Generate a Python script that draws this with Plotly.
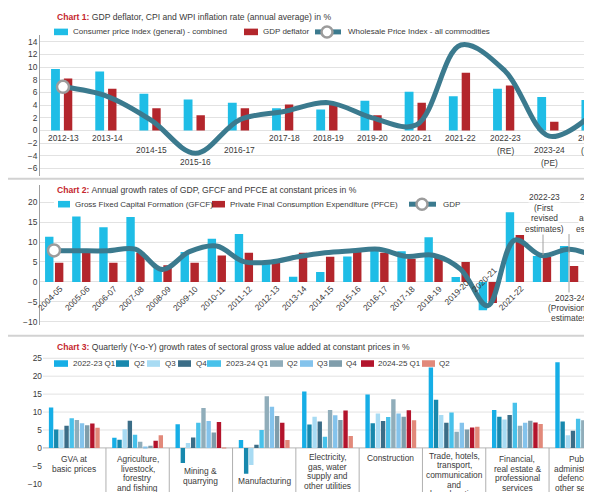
import plotly.graph_objects as go

W, H = 592, 492

# ---------------- Chart 1 data ----------------
c1_years = ["2012-13", "2013-14", "2014-15", "2015-16", "2016-17", "2017-18",
            "2018-19", "2019-20", "2020-21", "2021-22", "2022-23", "2023-24", "2004-25"]
c1_notes = ["", "", "", "", "", "", "", "", "", "", "(RE)", "(PE)", "(FAE)*"]
c1_cpi = [9.7, 9.3, 5.8, 4.9, 4.4, 3.5, 3.3, 4.7, 6.1, 5.4, 6.6, 5.3, 4.8]
c1_deflator = [8.2, 6.6, 3.5, 2.4, 3.5, 4.1, 4.1, 2.4, 4.4, 9.1, 7.1, 1.4, 2.4]
c1_wpi = [6.9, 5.4, 1.6, -3.6, 1.7, 3.0, 4.4, 2.0, 0.9, 13.5, 9.4, -0.9, 2.7]
c1_yticks = [-6, -4, -2, 0, 2, 4, 6, 8, 10, 12, 14]
c1_names = ["Consumer price index (general) - combined", "GDP deflator",
            "Wholesale Price Index - all commodities"]

# ---------------- Chart 2 data ----------------
c2_years = ["2004-05", "2005-06", "2006-07", "2007-08", "2008-09", "2009-10", "2010-11",
            "2011-12", "2012-13", "2013-14", "2014-15", "2015-16", "2016-17", "2017-18",
            "2018-19", "2019-20", "2020-21", "2021-22", "2022-23", "2023-24", "2024-25"]
c2_gfcf = [11.3, 16.4, 13.7, 16.3, 3.5, 7.5, 10.8, 12.0, 5.0, 1.3, 2.5, 6.4, 7.9, 7.7,
           11.2, 1.2, -7.1, 17.5, 6.5, 9.0, 6.7]
c2_pfce = [4.8, 7.3, 4.8, 7.3, 4.2, 4.8, 6.6, 7.3, 5.4, 7.3, 6.3, 7.7, 7.3, 5.8,
           6.0, 5.0, -5.3, 11.8, 6.3, 4.0, 6.2]
c2_gdp = [7.9, 7.8, 7.8, 8.2, 3.1, 7.6, 9.0, 5.1, 5.0, 6.3, 7.3, 7.8, 8.2, 6.4,
          6.7, 3.2, -6.0, 10.5, 6.6, 8.2, 6.3]
c2_yticks = [-10, -5, 0, 5, 10, 15, 20]
c2_names = ["Gross Fixed Capital Formation (GFCF)",
            "Private Final Consumption Expenditure (PFCE)", "GDP"]
# the last three years are labelled with estimate notes instead of rotated labels
c2_estimate_notes = {"2022-23": ["2022-23", "(First", "revised", "estimates)"],
                     "2024-25": ["2024-25", "(First", "advance", "estimates)"],
                     "2023-24": ["2023-24", "(Provisional", "estimates)"]}

# ---------------- Chart 3 data ----------------
c3_sectors = ["GVA at basic prices", "Agriculture, livestock, forestry and fishing",
              "Mining & quarrying", "Manufacturing",
              "Electricity, gas, water supply and other utilities", "Construction",
              "Trade, hotels, transport, communication and broadcasting",
              "Financial, real estate & professional services",
              "Public administration, defence and other services"]
c3_label_lines = [["GVA at", "basic prices"],
                  ["Agriculture,", "livestock,", "forestry", "and fishing"],
                  ["Mining &", "quarrying"],
                  ["Manufacturing"],
                  ["Electricity,", "gas, water", "supply and", "other utilities"],
                  ["Construction"],
                  ["Trade, hotels,", "transport,", "communication", "and", "broadcasting"],
                  ["Financial,", "real estate &", "professional", "services"],
                  ["Public", "administration,", "defence and", "other services"]]
c3_series = ["2022-23 Q1", "Q2", "Q3", "Q4", "2023-24 Q1", "Q2", "Q3", "Q4", "2024-25 Q1", "Q2"]
q22_1 = [11.3, 2.8, 6.6, 2.2, 15.7, 14.9, 22.4, 10.6, 23.9]
q22_2 = [5.1, 2.3, -4.2, -7.2, 6.5, 6.9, 13.4, 8.7, 7.4]
q22_3 = [5.0, 5.2, 1.4, -4.8, 8.7, 9.6, 9.2, 7.9, 3.5]
q22_4 = [6.2, 7.6, 2.9, 0.9, 7.4, 7.5, 7.0, 9.2, 4.8]
q23_1 = [8.3, 3.7, 7.0, 5.0, 3.1, 8.6, 9.9, 12.6, 8.1]
q23_2 = [7.8, 1.7, 11.1, 14.4, 10.6, 13.6, 4.5, 6.2, 7.7]
q23_3 = [6.9, 0.4, 7.5, 11.5, 9.1, 9.6, 7.0, 7.0, 7.4]
q23_4 = [6.3, 0.6, 4.3, 8.9, 7.8, 8.7, 5.1, 7.6, 7.7]
q24_1 = [6.8, 2.0, 7.2, 7.0, 10.4, 10.5, 5.7, 7.1, 9.5]
q24_2 = [5.6, 3.5, -0.1, 2.2, 3.3, 7.7, 5.9, 6.7, 9.2]
c3_values = [q22_1, q22_2, q22_3, q22_4, q23_1, q23_2, q23_3, q23_4, q24_1, q24_2]
c3_yticks = [-10, -5, 0, 5, 10, 15, 20, 25]

# ---------------- style ----------------
FONT = "Liberation Sans, Arial, sans-serif"
FS = 8.4
FS_KEY = 8.0
CYAN = "#1fbde6"
RED = "#b3262c"
LINEC = "#3b7a8e"
GRID = "#e2e2e2"
AXIS = "#a0a0a0"
TXT = "#3a3a3a"
TRED = "#c4262e"
MK_EDGE = "#9c9c9c"
c3_colors = ["#16aee6", "#1788ad", "#a8dbf3", "#3b6d87", "#48c1ea",
             "#90adba", "#84c3ec", "#7f9dab", "#b3142c", "#e2897a"]


def py(ypx):
    return 1 - ypx / H


def px(xpx):
    return xpx / W


# pixel -> data helpers (consistent with axis ranges/domains below)
def c1y(ypx):
    return (123 - ypx) / 6.36


def c2y(ypx):
    return (275 - ypx) / 4.0


def c3y(ypx):
    return (441.7 - ypx) / 3.6


def c1x(xpx):
    return (xpx - 55) / 44.2


def c2x(xpx):
    return (xpx - 46) / 27.1


def c3x(xpx):
    return (xpx - 66.3) / 63.3


fig = go.Figure()

# ---- Chart 1 traces ----
fig.add_trace(go.Bar(x=c1_years, y=c1_cpi, name=c1_names[0],
                     marker=dict(color=CYAN, line=dict(width=0)), offset=-0.27, width=0.2,
                     xaxis="x", yaxis="y"))
fig.add_trace(go.Bar(x=c1_years, y=c1_deflator, name=c1_names[1],
                     marker=dict(color=RED, line=dict(width=0)), offset=0.02, width=0.19,
                     xaxis="x", yaxis="y"))
fig.add_trace(go.Scatter(x=c1_years, y=c1_wpi, mode="lines", name=c1_names[2],
                         line=dict(color=LINEC, width=5, shape="spline", smoothing=1.0),
                         xaxis="x", yaxis="y"))
fig.add_trace(go.Scatter(x=[c1_years[0], c1_years[-1]], y=[c1_wpi[0], c1_wpi[-1]], mode="markers",
                         name=c1_names[2], cliponaxis=False,
                         marker=dict(size=12, color="white", line=dict(color=MK_EDGE, width=2.5)),
                         xaxis="x", yaxis="y"))

# ---- Chart 2 traces ----
fig.add_trace(go.Bar(x=c2_years, y=c2_gfcf, name=c2_names[0],
                     marker=dict(color=CYAN, line=dict(width=0)), offset=-0.33, width=0.31,
                     xaxis="x2", yaxis="y2"))
fig.add_trace(go.Bar(x=c2_years, y=c2_pfce, name=c2_names[1],
                     marker=dict(color=RED, line=dict(width=0)), offset=0.035, width=0.31,
                     xaxis="x2", yaxis="y2"))
fig.add_trace(go.Scatter(x=c2_years, y=c2_gdp, mode="lines", name=c2_names[2],
                         line=dict(color=LINEC, width=5, shape="spline", smoothing=1.0),
                         xaxis="x2", yaxis="y2"))
fig.add_trace(go.Scatter(x=[c2_years[0], c2_years[-1]], y=[c2_gdp[0], c2_gdp[-1]], mode="markers",
                         name=c2_names[2], cliponaxis=False,
                         marker=dict(size=12, color="white", line=dict(color=MK_EDGE, width=2.5)),
                         xaxis="x2", yaxis="y2"))

# ---- Chart 3 traces ----
for nm, vals, col in zip(c3_series, c3_values, c3_colors):
    fig.add_trace(go.Bar(x=c3_sectors, y=vals, name=nm, marker=dict(color=col, line=dict(width=0)),
                         xaxis="x3", yaxis="y3"))

# ---------------- layout ----------------
fig.update_layout(
    width=W, height=H, margin=dict(l=0, r=0, t=0, b=0),
    paper_bgcolor="white", plot_bgcolor="white", showlegend=False,
    font=dict(family=FONT, size=FS, color=TXT),
    barmode="group", bargap=0.185, bargroupgap=0.15,
    xaxis=dict(domain=[px(32), 1], range=[c1x(32), c1x(592)], type="category",
               showticklabels=False, showgrid=False, zeroline=False, showline=False, anchor="y"),
    yaxis=dict(domain=[py(169), py(27)], range=[c1y(169), c1y(27)], tickvals=c1_yticks,
               showgrid=True, gridcolor=GRID, gridwidth=1, zeroline=False,
               showline=True, linecolor=AXIS, linewidth=1, ticks="", anchor="x",
               tickfont=dict(size=FS, color=TXT)),
    xaxis2=dict(domain=[px(32), 1], range=[c2x(32), c2x(592)], type="category",
                showticklabels=False, showgrid=False, zeroline=False, showline=False, anchor="y2"),
    yaxis2=dict(domain=[py(318), py(178)], range=[c2y(318), c2y(178)], tickvals=c2_yticks,
                showgrid=True, gridcolor=GRID, gridwidth=1, zeroline=False,
                showline=True, linecolor=AXIS, linewidth=1, ticks="", anchor="x2",
                tickfont=dict(size=FS, color=TXT)),
    xaxis3=dict(domain=[px(35), 1], range=[c3x(35), c3x(592)], type="category",
                showticklabels=False, showgrid=False, zeroline=False, showline=False, anchor="y3"),
    yaxis3=dict(domain=[0, py(345)], range=[c3y(492), c3y(345)], tickvals=c3_yticks,
                showgrid=False, zeroline=False, showline=False, ticks="", anchor="x3",
                tickfont=dict(size=FS, color=TXT)),
)

ann = []
shapes = []


def txt(x, y, t, size=FS, xanchor="center", xref="paper", yref="paper", **kw):
    d = dict(xref=xref, yref=yref, x=x, y=y, text=t, showarrow=False, xanchor=xanchor,
             yanchor="middle", font=dict(size=size, color=TXT))
    d.update(kw)
    ann.append(d)


# ---- hand-placed keys (matching the original's compact key layout) ----
def key_box(x0, x1, yc, color, label, tx):
    shapes.append(dict(type="rect", xref="paper", yref="paper", x0=px(x0), x1=px(x1),
                       y0=py(yc + 3.3), y1=py(yc - 3.3), fillcolor=color, line=dict(width=0),
                       layer="above"))
    txt(px(tx), py(yc), label, size=FS_KEY, xanchor="left")


def key_line(x0, x1, cx, yc, label, tx):
    shapes.append(dict(type="line", xref="paper", yref="paper", x0=px(x0), x1=px(x1),
                       y0=py(yc), y1=py(yc), line=dict(color=LINEC, width=5), layer="above"))
    r = 5.5
    shapes.append(dict(type="circle", xref="paper", yref="paper", x0=px(cx - r), x1=px(cx + r),
                       y0=py(yc + r), y1=py(yc - r), fillcolor="white",
                       line=dict(color=MK_EDGE, width=2.5), layer="above"))
    txt(px(tx), py(yc), label, size=FS_KEY, xanchor="left")


# white strip behind chart 2 key (hides gridline like the original)
shapes.append(dict(type="rect", xref="paper", yref="paper", x0=px(46), x1=px(452),
                   y0=py(203.5), y1=py(190.5), fillcolor="white", line=dict(width=0), layer="above"))

key_box(46, 60, 24, CYAN, c1_names[0], 63)
key_box(236, 250, 24, RED, c1_names[1], 253)
key_line(307, 333, 319, 24, c1_names[2], 338)

key_box(50, 62, 197, CYAN, c2_names[0], 64.5)
key_box(204, 217, 197, RED, c2_names[1], 220)
key_line(401, 428, 414, 197, c2_names[2], 433)

c3_key = [(46, 60, 62.5), (108, 121, 124), (139, 152, 154.5), (170, 183, 185.5), (199, 213, 215.5),
          (262, 275, 277), (292, 305, 307), (321, 334, 336), (353, 366, 368), (414, 427, 429)]
for (x0, x1, tx), nm, col in zip(c3_key, c3_series, c3_colors):
    key_box(x0, x1, 357, col, nm, tx)

# titles
titles = [("Chart 1:", " GDP deflator, CPI and WPI inflation rate (annual average) in %", 9.5),
          ("Chart 2:", " Annual growth rates of GDP, GFCF and PFCE at constant prices in %", 183),
          ("Chart 3:", " Quarterly (Y-o-Y) growth rates of sectoral gross value added at constant prices in %", 340)]
for head, rest, ty in titles:
    txt(px(46.5), py(ty), "<b><span style='color:%s'>%s</span></b>%s" % (TRED, head, rest),
        size=8.6, xanchor="left")

# chart 1 category labels
c1_label_row = [0, 0, 1, 2, 1, 0, 0, 0, 0, 0, 0, 1, 0]
row_px = [131, 143, 155, 167]
for i, yr in enumerate(c1_years):
    r = c1_label_row[i]
    txt(i, c1y(row_px[r]), yr, xref="x", yref="y")
    if c1_notes[i]:
        txt(i, c1y(row_px[r] + 12.5), c1_notes[i], xref="x", yref="y")

# chart 2 rotated category labels (years without an estimate note)
c2_label_px = [291.5] * 21
c2_label_px[15] = 285
c2_label_px[16] = 273
for i, yr in enumerate(c2_years):
    if yr in c2_estimate_notes:
        continue
    txt(i - 0.13, c2y(c2_label_px[i]), yr, xref="x2", yref="y2", textangle=-45)

# chart 2 estimate notes (placement per note: centre x px, first-line y px, line step, leader px)
note_place = {"2022-23": (536, 190, 10.5, 227, 248),
              "2024-25": (587, 190, 10.5, 227, 246),
              "2023-24": (562, 291.5, 9.7, 245, 286)}
for yr, lines in c2_estimate_notes.items():
    xc, y0, step, l0, l1 = note_place[yr]
    xl = c2x(min(xc, 562) - 1)
    shapes.append(dict(type="line", xref="x2", yref="y2", x0=xl, x1=xl, y0=c2y(l0), y1=c2y(l1),
                       line=dict(color="#a0a0a0", width=1), layer="above"))
    for j, t in enumerate(lines):
        txt(c2x(xc), c2y(y0 + step * j), t, xref="x2", yref="y2", bgcolor="white", borderpad=0)

# chart 3 sector labels
c3_first_px = [453, 452.7, 465, 475, 451, 452, 449.5, 453, 453]
for i, lines in enumerate(c3_label_lines):
    for j, t in enumerate(lines):
        txt(i, c3y(c3_first_px[i] + 9.7 * j), t, xref="x3", yref="y3")

# chart 3 gridlines (only non-negative) and zero line
for v in c3_yticks:
    if v > 0:
        shapes.append(dict(type="line", xref="x3 domain", yref="y3", x0=0, x1=1, y0=v, y1=v,
                           line=dict(color=GRID, width=1), layer="below"))
shapes.append(dict(type="line", xref="x3 domain", yref="y3", x0=0, x1=1, y0=0, y1=0,
                   line=dict(color="#b5b5b5", width=1), layer="below"))
# chart 3 sector separators
for i in range(len(c3_sectors) - 1):
    shapes.append(dict(type="line", xref="x3", yref="y3", x0=i + 0.5, x1=i + 0.5,
                       y0=0, y1=c3y(492), line=dict(color="#b0b0b0", width=1), layer="below"))

# panel separators
for yy in (171.5, 329):
    shapes.append(dict(type="line", xref="paper", yref="paper", x0=0, x1=1, y0=py(yy), y1=py(yy),
                       line=dict(color="#d2d2d2", width=2)))

fig.update_layout(annotations=ann, shapes=shapes)
fig.write_html("out.html")
